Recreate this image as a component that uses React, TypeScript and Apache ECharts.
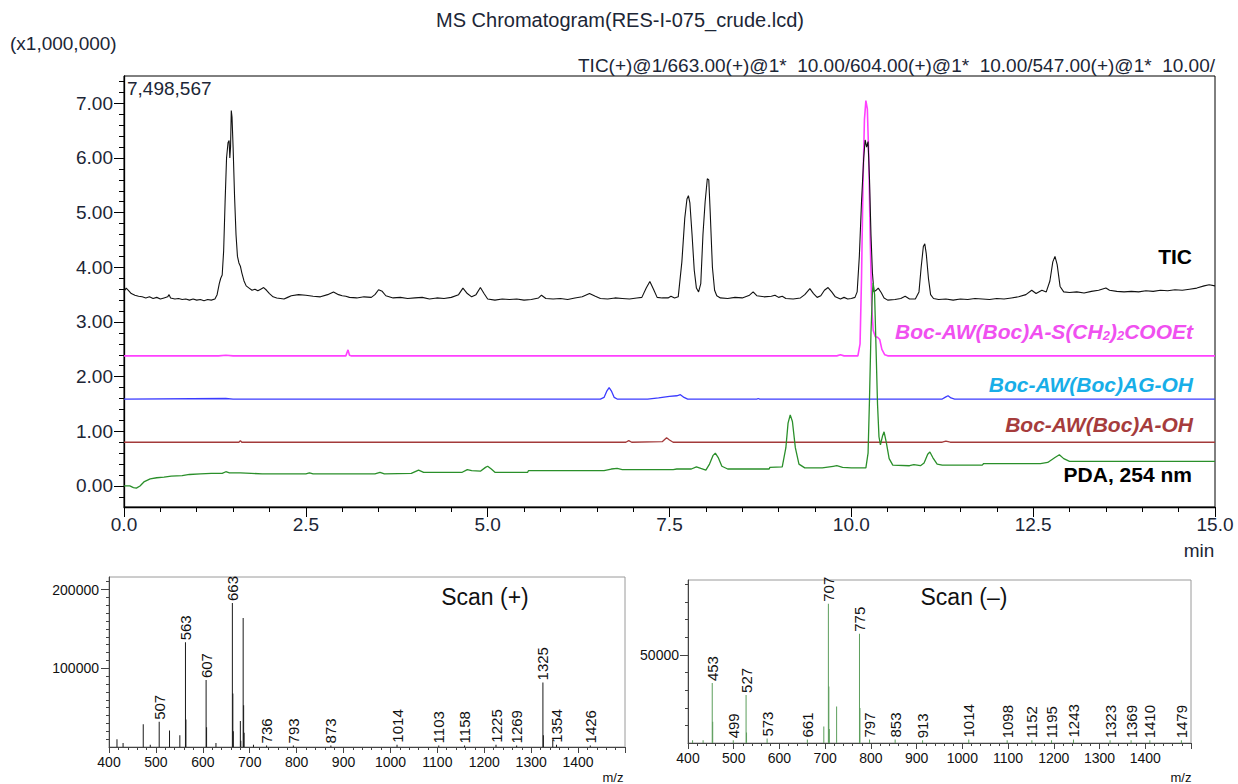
import React, { useEffect, useRef } from "react";
import * as echarts from "echarts";

// ---------------- Main chromatogram traces: [time (min), intensity (x1,000,000)] ----------------
const TIC_TRACE: [number, number][] = [
  [0.0, 3.56], [0.03, 3.62], [0.06, 3.58], [0.1, 3.52], [0.15, 3.49], [0.2, 3.47], [0.25, 3.46], [0.3, 3.44],
  [0.35, 3.46], [0.4, 3.43], [0.45, 3.45], [0.5, 3.42], [0.55, 3.44], [0.6, 3.46], [0.62, 3.5], [0.64, 3.44],
  [0.7, 3.42], [0.75, 3.43], [0.8, 3.41], [0.85, 3.42], [0.9, 3.4], [0.95, 3.42], [1.0, 3.4], [1.05, 3.41],
  [1.1, 3.39], [1.15, 3.41], [1.2, 3.4], [1.25, 3.42], [1.28, 3.5], [1.31, 3.7], [1.33, 3.8], [1.35, 3.86],
  [1.37, 4.3], [1.39, 5.2], [1.41, 6.0], [1.43, 6.28], [1.445, 6.32], [1.455, 6.0], [1.465, 6.2], [1.475, 6.87],
  [1.485, 6.75], [1.5, 6.2], [1.52, 5.3], [1.54, 4.6], [1.56, 4.2], [1.58, 4.08], [1.6, 4.02], [1.62, 3.9],
  [1.65, 3.75], [1.68, 3.66], [1.72, 3.62], [1.76, 3.58], [1.8, 3.6], [1.84, 3.57], [1.88, 3.6], [1.92, 3.63],
  [1.96, 3.58], [2.0, 3.52], [2.05, 3.46], [2.1, 3.44], [2.2, 3.42], [2.25, 3.45], [2.3, 3.48], [2.4, 3.5],
  [2.5, 3.49], [2.6, 3.47], [2.7, 3.46], [2.8, 3.5], [2.88, 3.55], [2.95, 3.5], [3.0, 3.48], [3.05, 3.47],
  [3.1, 3.45], [3.2, 3.44], [3.3, 3.46], [3.4, 3.45], [3.45, 3.5], [3.5, 3.59], [3.55, 3.56], [3.6, 3.48],
  [3.7, 3.44], [3.8, 3.45], [3.9, 3.43], [4.0, 3.44], [4.1, 3.45], [4.2, 3.42], [4.3, 3.44], [4.4, 3.43],
  [4.5, 3.45], [4.6, 3.5], [4.66, 3.62], [4.72, 3.52], [4.78, 3.46], [4.84, 3.5], [4.9, 3.63], [4.95, 3.52],
  [5.0, 3.42], [5.1, 3.4], [5.2, 3.42], [5.3, 3.41], [5.4, 3.42], [5.5, 3.4], [5.6, 3.41], [5.7, 3.44],
  [5.74, 3.49], [5.8, 3.43], [5.9, 3.42], [6.0, 3.43], [6.1, 3.41], [6.2, 3.44], [6.3, 3.46], [6.4, 3.52],
  [6.48, 3.47], [6.55, 3.43], [6.65, 3.42], [6.75, 3.44], [6.85, 3.43], [6.95, 3.42], [7.05, 3.44], [7.12, 3.45],
  [7.18, 3.62], [7.23, 3.74], [7.28, 3.6], [7.33, 3.45], [7.4, 3.44], [7.48, 3.44], [7.52, 3.47], [7.57, 3.44],
  [7.62, 3.46], [7.67, 4.1], [7.71, 4.9], [7.74, 5.25], [7.76, 5.31], [7.78, 5.18], [7.81, 4.6], [7.84, 3.95],
  [7.87, 3.62], [7.9, 3.55], [7.93, 3.7], [7.96, 4.6], [7.99, 5.2], [8.02, 5.62], [8.04, 5.6], [8.06, 5.0],
  [8.09, 4.0], [8.12, 3.58], [8.15, 3.48], [8.2, 3.44], [8.3, 3.43], [8.4, 3.45], [8.5, 3.44], [8.6, 3.49],
  [8.65, 3.55], [8.7, 3.48], [8.8, 3.46], [8.9, 3.47], [8.95, 3.49], [9.0, 3.45], [9.05, 3.47], [9.1, 3.43],
  [9.2, 3.42], [9.3, 3.44], [9.36, 3.5], [9.43, 3.61], [9.48, 3.52], [9.53, 3.45], [9.58, 3.48], [9.63, 3.58],
  [9.68, 3.63], [9.73, 3.55], [9.78, 3.46], [9.85, 3.42], [9.9, 3.45], [9.95, 3.42], [10.0, 3.43], [10.05, 3.45],
  [10.08, 3.55], [10.11, 4.2], [10.14, 5.2], [10.17, 6.0], [10.19, 6.33], [10.21, 6.2], [10.23, 6.3], [10.25, 5.6],
  [10.27, 4.6], [10.29, 3.9], [10.31, 3.55], [10.34, 3.58], [10.37, 3.62], [10.41, 3.54], [10.45, 3.44], [10.5, 3.4],
  [10.6, 3.41], [10.68, 3.43], [10.74, 3.47], [10.8, 3.42], [10.88, 3.42], [10.93, 3.55], [10.96, 4.0], [10.99, 4.38],
  [11.01, 4.43], [11.03, 4.25], [11.06, 3.8], [11.09, 3.5], [11.13, 3.43], [11.2, 3.41], [11.3, 3.42], [11.4, 3.4],
  [11.5, 3.42], [11.6, 3.41], [11.7, 3.43], [11.8, 3.42], [11.9, 3.41], [12.0, 3.43], [12.1, 3.42], [12.2, 3.44],
  [12.3, 3.46], [12.4, 3.5], [12.48, 3.58], [12.54, 3.52], [12.62, 3.58], [12.68, 3.55], [12.73, 3.75], [12.77, 4.1],
  [12.8, 4.2], [12.83, 4.05], [12.87, 3.65], [12.92, 3.55], [13.0, 3.54], [13.1, 3.55], [13.2, 3.53], [13.3, 3.56],
  [13.4, 3.58], [13.5, 3.62], [13.55, 3.58], [13.65, 3.56], [13.75, 3.55], [13.85, 3.56], [13.95, 3.55], [14.05, 3.57],
  [14.15, 3.56], [14.25, 3.58], [14.35, 3.57], [14.45, 3.59], [14.55, 3.58], [14.65, 3.6], [14.75, 3.62], [14.85, 3.66],
  [14.92, 3.68], [15.0, 3.66],
];

const THIOESTER_TRACE: [number, number][] = [
  [0, 2.38], [1.3, 2.38], [1.4, 2.39], [1.5, 2.38], [3.05, 2.38], [3.08, 2.49], [3.1, 2.39], [3.12, 2.38],
  [9.8, 2.38], [9.85, 2.4], [9.9, 2.38], [10.09, 2.38], [10.12, 2.6], [10.14, 3.8], [10.16, 5.5], [10.18, 6.7],
  [10.2, 7.05], [10.22, 6.9], [10.24, 6.0], [10.26, 4.5], [10.28, 3.3], [10.3, 2.85], [10.33, 2.73], [10.36, 2.72],
  [10.39, 2.68], [10.42, 2.5], [10.46, 2.4], [10.5, 2.38], [15, 2.38],
];

const AG_OH_TRACE: [number, number][] = [
  [0, 1.59], [1.4, 1.6], [1.5, 1.59], [6.55, 1.59], [6.6, 1.62], [6.64, 1.74], [6.67, 1.8], [6.7, 1.74],
  [6.74, 1.62], [6.78, 1.59], [7.2, 1.59], [7.35, 1.61], [7.5, 1.64], [7.6, 1.65], [7.65, 1.67], [7.7, 1.62],
  [7.75, 1.59], [8.7, 1.59], [8.72, 1.6], [8.74, 1.59], [11.25, 1.59], [11.3, 1.63], [11.33, 1.65], [11.37, 1.61],
  [11.42, 1.59], [15, 1.59],
];

const A_OH_TRACE: [number, number][] = [
  [0, 0.8], [1.58, 0.8], [1.6, 0.83], [1.62, 0.8], [6.9, 0.8], [6.94, 0.83], [6.98, 0.8], [7.4, 0.81],
  [7.46, 0.88], [7.5, 0.84], [7.55, 0.8], [11.25, 0.8], [11.3, 0.82], [11.36, 0.8], [15, 0.8],
];

const PDA_TRACE: [number, number][] = [
  [0, 0.0], [0.08, 0.0], [0.13, -0.03], [0.17, -0.04], [0.22, 0.0], [0.28, 0.08], [0.36, 0.13], [0.45, 0.15],
  [0.55, 0.16], [0.65, 0.18], [0.8, 0.19], [0.9, 0.21], [1.05, 0.22], [1.2, 0.23], [1.35, 0.23], [1.4, 0.26],
  [1.45, 0.24], [1.6, 0.24], [1.75, 0.23], [1.9, 0.22], [2.5, 0.22], [2.55, 0.24], [2.6, 0.22], [3.45, 0.22],
  [3.52, 0.25], [3.58, 0.22], [3.95, 0.23], [4.05, 0.29], [4.12, 0.25], [4.3, 0.25], [4.65, 0.25], [4.72, 0.3],
  [4.78, 0.28], [4.9, 0.27], [4.97, 0.34], [5.0, 0.36], [5.05, 0.31], [5.1, 0.25], [5.55, 0.25], [5.56, 0.28],
  [6.0, 0.28], [6.6, 0.28], [6.7, 0.31], [6.78, 0.32], [6.85, 0.3], [7.55, 0.3], [7.6, 0.31], [7.8, 0.31],
  [7.87, 0.35], [7.93, 0.32], [8.0, 0.29], [8.05, 0.4], [8.1, 0.56], [8.13, 0.6], [8.17, 0.52], [8.22, 0.36],
  [8.3, 0.31], [8.87, 0.31], [8.88, 0.34], [9.05, 0.35], [9.1, 0.7], [9.13, 1.15], [9.16, 1.3], [9.19, 1.18],
  [9.23, 0.7], [9.28, 0.4], [9.36, 0.33], [9.6, 0.33], [9.75, 0.36], [9.8, 0.37], [9.88, 0.34], [10.0, 0.33],
  [10.2, 0.33], [10.23, 0.6], [10.25, 1.6], [10.27, 2.8], [10.29, 3.55], [10.3, 3.71], [10.32, 3.5], [10.34, 2.5],
  [10.36, 1.5], [10.38, 0.9], [10.4, 0.75], [10.43, 0.92], [10.45, 0.99], [10.48, 0.8], [10.52, 0.5], [10.57, 0.38],
  [10.8, 0.37], [10.86, 0.39], [10.95, 0.37], [11.0, 0.42], [11.05, 0.58], [11.08, 0.62], [11.12, 0.52], [11.18, 0.4],
  [11.25, 0.38], [11.8, 0.38], [11.82, 0.41], [12.6, 0.41], [12.7, 0.43], [12.8, 0.52], [12.86, 0.57], [12.92, 0.5],
  [13.0, 0.45], [15, 0.45],
];

// ---------------- Main axis ticks ----------------
const MAIN_X_LABELS = [0, 2.5, 5, 7.5, 10, 12.5, 15];
const MAIN_X_MINOR = [0.5, 1, 1.5, 2, 3, 3.5, 4, 4.5, 5.5, 6, 6.5, 7, 8, 8.5, 9, 9.5, 10.5, 11, 11.5, 12, 13, 13.5, 14, 14.5];
const MAIN_Y_LABELS = [0, 1, 2, 3, 4, 5, 6, 7];
const MAIN_Y_MINOR = [-0.2, 0.2, 0.4, 0.6, 0.8, 1.2, 1.4, 1.6, 1.8, 2.2, 2.4, 2.6, 2.8, 3.2, 3.4, 3.6, 3.8, 4.2, 4.4, 4.6, 4.8,
  5.2, 5.4, 5.6, 5.8, 6.2, 6.4, 6.6, 6.8, 7.2, 7.4];

// ---------------- Scan (+) spectrum: [m/z, intensity] ----------------
const POS_LABELED_PEAKS: [number, number][] = [
  [507, 32000], [563, 133000], [607, 85000], [663, 183000], [736, 2000], [793, 2000], [873, 2000],
  [1014, 3000], [1103, 2000], [1158, 2000], [1225, 3000], [1269, 2000], [1325, 82000], [1354, 3000], [1426, 2000],
];
const POS_OTHER_PEAKS: [number, number][] = [
  [417, 10000], [430, 5000], [473, 29000], [488, 3000], [529, 21000], [551, 15000], [564, 35000], [608, 25000],
  [628, 5000], [664, 68000], [665, 20000], [680, 33000], [681, 8000], [686, 164000], [687, 53000], [688, 18000],
  [708, 3000], [1326, 15000], [1346, 9000],
];

// ---------------- Scan (–) spectrum ----------------
const NEG_LABELED_PEAKS: [number, number][] = [
  [453, 34000], [499, 1500], [527, 27300], [573, 2500], [661, 2000], [707, 79000], [775, 62000], [797, 2000],
  [853, 2000], [913, 1500], [1014, 2000], [1098, 1500], [1152, 1500], [1195, 1500], [1243, 2000], [1323, 1500],
  [1369, 1500], [1410, 1500], [1479, 1500],
];
const NEG_OTHER_PEAKS: [number, number][] = [
  [410, 1500], [433, 1500], [454, 12000], [528, 6000], [697, 9400], [708, 32000], [709, 8000], [725, 20700], [776, 19800],
];

const SPEC_X_LABELS = [400, 500, 600, 700, 800, 900, 1000, 1100, 1200, 1300, 1400];
const SPEC_X_TICKS = [400, 500, 600, 700, 800, 900, 1000, 1100, 1200, 1300, 1400, 1500];
const POS_Y_LABELS = [100000, 200000];
const NEG_Y_LABELS = [50000];

const FONT = "'Liberation Sans', Arial, Helvetica, sans-serif";
const TXT = "#1c2636";

function range(a: number, b: number, step: number): number[] {
  const out: number[] = [];
  for (let v = a; v <= b + 1e-9; v += step) out.push(Math.round(v * 1000) / 1000);
  return out;
}

export default function App() {
  const ref = useRef<HTMLDivElement>(null);

  useEffect(() => {
    if (!ref.current) return;
    const chart = echarts.init(ref.current, undefined, { renderer: "svg" });

    const specXMinor = range(400, 1500, 20).filter((v) => v % 100 !== 0);
    const posYMinor = range(10000, 210000, 10000).filter((v) => v % 100000 !== 0);
    const negYMinor = range(10000, 90000, 10000).filter((v) => v !== 50000);

    const mainAxisLine = { show: true, onZero: false, lineStyle: { color: "#000", width: 1.3 } };
    const specAxisLine = { show: true, onZero: false, lineStyle: { color: "#444", width: 1 } };
    const noLine = { show: false, onZero: false };
    const plain = (v: number) => String(v);

    const barLabel = {
      show: false,
      position: "top",
      distance: 2,
      rotate: 90,
      align: "left",
      verticalAlign: "middle",
      fontSize: 15,
      fontFamily: FONT,
      color: "#111",
      formatter: (p: any) => String(p.value[0]),
    };

    const mkBars = (labeled: [number, number][], other: [number, number][]) =>
      [...other.map((d) => ({ value: d })), ...labeled.map((d) => ({ value: d, label: { show: true } }))].sort(
        (a, b) => a.value[0] - b.value[0]
      );

    const option: any = {
      animation: false,
      backgroundColor: "#fff",
      grid: [
        { left: 124, top: 76, width: 1091, height: 431, show: true, borderColor: "#000", borderWidth: 1, backgroundColor: "transparent" },
        { left: 109, top: 577, width: 516, height: 170, show: true, borderColor: "#9a9a9a", borderWidth: 1, backgroundColor: "transparent" },
        { left: 688, top: 580, width: 503, height: 163, show: true, borderColor: "#9a9a9a", borderWidth: 1, backgroundColor: "transparent" },
      ],
      xAxis: [
        {
          gridIndex: 0, type: "value", position: "bottom", min: 0, max: 15,
          axisLine: mainAxisLine,
          axisTick: { show: true, customValues: MAIN_X_LABELS, length: 10, lineStyle: { color: "#000" } },
          axisLabel: { customValues: MAIN_X_LABELS, formatter: (v: number) => v.toFixed(1), fontSize: 19, fontFamily: FONT, color: TXT, margin: 8 },
          splitLine: { show: false },
        },
        {
          gridIndex: 0, type: "value", position: "bottom", min: 0, max: 15,
          axisLine: noLine,
          axisTick: { show: true, customValues: MAIN_X_MINOR, length: 5, lineStyle: { color: "#000" } },
          axisLabel: { show: false },
          splitLine: { show: false },
        },
        {
          gridIndex: 1, type: "value", position: "bottom", min: 400, max: 1500,
          axisLine: specAxisLine,
          axisTick: { show: true, customValues: SPEC_X_TICKS, length: 6, lineStyle: { color: "#444" } },
          axisLabel: { customValues: SPEC_X_LABELS, formatter: plain, fontSize: 14, fontFamily: FONT, color: "#111", margin: 8 },
          splitLine: { show: false },
        },
        {
          gridIndex: 1, type: "value", position: "bottom", min: 400, max: 1500,
          axisLine: noLine,
          axisTick: { show: true, customValues: specXMinor, length: 3, lineStyle: { color: "#444" } },
          axisLabel: { show: false },
          splitLine: { show: false },
        },
        {
          gridIndex: 2, type: "value", position: "bottom", min: 400, max: 1500,
          axisLine: specAxisLine,
          axisTick: { show: true, customValues: SPEC_X_TICKS, length: 6, lineStyle: { color: "#444" } },
          axisLabel: { customValues: SPEC_X_LABELS, formatter: plain, fontSize: 14, fontFamily: FONT, color: "#111", margin: 8 },
          splitLine: { show: false },
        },
        {
          gridIndex: 2, type: "value", position: "bottom", min: 400, max: 1500,
          axisLine: noLine,
          axisTick: { show: true, customValues: specXMinor, length: 3, lineStyle: { color: "#444" } },
          axisLabel: { show: false },
          splitLine: { show: false },
        },
      ],
      yAxis: [
        {
          gridIndex: 0, type: "value", position: "left", min: -0.385, max: 7.5,
          axisLine: mainAxisLine,
          axisTick: { show: true, customValues: MAIN_Y_LABELS, length: 10, lineStyle: { color: "#000" } },
          axisLabel: { customValues: MAIN_Y_LABELS, formatter: (v: number) => v.toFixed(2), fontSize: 19, fontFamily: FONT, color: TXT, margin: 11 },
          splitLine: { show: false },
        },
        {
          gridIndex: 0, type: "value", position: "left", min: -0.385, max: 7.5,
          axisLine: noLine,
          axisTick: { show: true, customValues: MAIN_Y_MINOR, length: 5, lineStyle: { color: "#000" } },
          axisLabel: { show: false },
          splitLine: { show: false },
        },
        {
          gridIndex: 1, type: "value", position: "left", min: 0, max: 216000,
          axisLine: specAxisLine,
          axisTick: { show: true, customValues: POS_Y_LABELS, length: 8, lineStyle: { color: "#444" } },
          axisLabel: { customValues: POS_Y_LABELS, formatter: plain, fontSize: 14, fontFamily: FONT, color: "#111", margin: 10 },
          splitLine: { show: false },
        },
        {
          gridIndex: 1, type: "value", position: "left", min: 0, max: 216000,
          axisLine: noLine,
          axisTick: { show: true, customValues: posYMinor, length: 3, lineStyle: { color: "#444" } },
          axisLabel: { show: false },
          splitLine: { show: false },
        },
        {
          gridIndex: 2, type: "value", position: "left", min: 0, max: 92500,
          axisLine: specAxisLine,
          axisTick: { show: true, customValues: NEG_Y_LABELS, length: 8, lineStyle: { color: "#444" } },
          axisLabel: { customValues: NEG_Y_LABELS, formatter: plain, fontSize: 14, fontFamily: FONT, color: "#111", margin: 9 },
          splitLine: { show: false },
        },
        {
          gridIndex: 2, type: "value", position: "left", min: 0, max: 92500,
          axisLine: noLine,
          axisTick: { show: true, customValues: negYMinor, length: 3, lineStyle: { color: "#444" } },
          axisLabel: { show: false },
          splitLine: { show: false },
        },
      ],
      series: [
        { name: "Boc-AW(Boc)A-S(CH2)2COOEt", type: "line", xAxisIndex: 0, yAxisIndex: 0, data: THIOESTER_TRACE, symbol: "none", lineStyle: { color: "#ff40ff", width: 1.6 }, z: 2 },
        { name: "TIC", type: "line", xAxisIndex: 0, yAxisIndex: 0, data: TIC_TRACE, symbol: "none", lineStyle: { color: "#111", width: 1.1 }, z: 3 },
        { name: "Boc-AW(Boc)AG-OH", type: "line", xAxisIndex: 0, yAxisIndex: 0, data: AG_OH_TRACE, symbol: "none", lineStyle: { color: "#3b3bff", width: 1.3 }, z: 3 },
        { name: "Boc-AW(Boc)A-OH", type: "line", xAxisIndex: 0, yAxisIndex: 0, data: A_OH_TRACE, symbol: "none", lineStyle: { color: "#a33a3a", width: 1.3 }, z: 3 },
        { name: "PDA, 254 nm", type: "line", xAxisIndex: 0, yAxisIndex: 0, data: PDA_TRACE, symbol: "none", lineStyle: { color: "#2a8f2a", width: 1.3 }, z: 4 },
        {
          name: "Scan (+)", type: "bar", xAxisIndex: 2, yAxisIndex: 2, barWidth: 1,
          data: mkBars(POS_LABELED_PEAKS, POS_OTHER_PEAKS),
          itemStyle: { color: "#1a1a1a" }, label: barLabel,
        },
        {
          name: "Scan (-)", type: "bar", xAxisIndex: 4, yAxisIndex: 4, barWidth: 1,
          data: mkBars(NEG_LABELED_PEAKS, NEG_OTHER_PEAKS),
          itemStyle: { color: "#5c9e5c" }, label: barLabel,
        },
      ],
      graphic: [
        { type: "text", x: 620, y: 20, style: { text: "MS Chromatogram(RES-I-075_crude.lcd)", font: `20px ${FONT}`, fill: TXT, textAlign: "center", textVerticalAlign: "middle" } },
        { type: "text", x: 10, y: 43, style: { text: "(x1,000,000)", font: `19px ${FONT}`, fill: TXT, textAlign: "left", textVerticalAlign: "middle" } },
        { type: "text", x: 1215, y: 65, style: { text: "TIC(+)@1/663.00(+)@1*  10.00/604.00(+)@1*  10.00/547.00(+)@1*  10.00/", font: `19px ${FONT}`, fill: TXT, textAlign: "right", textVerticalAlign: "middle" } },
        { type: "text", x: 127, y: 88, style: { text: "7,498,567", font: `19px ${FONT}`, fill: TXT, textAlign: "left", textVerticalAlign: "middle" } },
        { type: "text", x: 1199, y: 550, style: { text: "min", font: `19px ${FONT}`, fill: TXT, textAlign: "center", textVerticalAlign: "middle" } },
        { type: "text", x: 1192, y: 256, style: { text: "TIC", font: `bold 21px ${FONT}`, fill: "#000", textAlign: "right", textVerticalAlign: "middle" } },
        {
          type: "text", x: 1193, y: 330,
          style: {
            text: "{a|Boc-AW(Boc)A-S(CH}{b|2}{a|)}{b|2}{a|COOEt}",
            textAlign: "right", textVerticalAlign: "middle",
            rich: {
              a: { font: `italic bold 21px ${FONT}`, fill: "#f050f0", lineHeight: 24, verticalAlign: "bottom" },
              b: { font: `italic bold 13px ${FONT}`, fill: "#f050f0", lineHeight: 12, verticalAlign: "bottom" },
            },
          },
        },
        { type: "text", x: 1193, y: 384, style: { text: "Boc-AW(Boc)AG-OH", font: `italic bold 21px ${FONT}`, fill: "#18aee8", textAlign: "right", textVerticalAlign: "middle" } },
        { type: "text", x: 1193, y: 424, style: { text: "Boc-AW(Boc)A-OH", font: `italic bold 21px ${FONT}`, fill: "#a63c3c", textAlign: "right", textVerticalAlign: "middle" } },
        { type: "text", x: 1192, y: 474, style: { text: "PDA, 254 nm", font: `bold 21px ${FONT}`, fill: "#000", textAlign: "right", textVerticalAlign: "middle" } },
        { type: "text", x: 485, y: 597, style: { text: "Scan (+)", font: `23px ${FONT}`, fill: "#111", textAlign: "center", textVerticalAlign: "middle" } },
        { type: "text", x: 964, y: 597, style: { text: "Scan (\u2013)", font: `23px ${FONT}`, fill: "#111", textAlign: "center", textVerticalAlign: "middle" } },
        { type: "text", x: 613, y: 777, style: { text: "m/z", font: `13px ${FONT}`, fill: "#111", textAlign: "center", textVerticalAlign: "middle" } },
        { type: "text", x: 1181, y: 777, style: { text: "m/z", font: `13px ${FONT}`, fill: "#111", textAlign: "center", textVerticalAlign: "middle" } },
      ],
    };

    chart.setOption(option);
    return () => chart.dispose();
  }, []);

  return (
    <div
      ref={ref}
      style={{ position: "fixed", left: 0, top: 0, width: 1238, height: 784, background: "#fff" }}
    />
  );
}
